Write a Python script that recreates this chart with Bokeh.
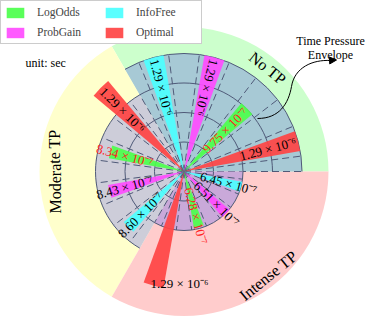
import math
from bokeh.plotting import figure
from bokeh.models import Range1d, Legend, LegendItem, ColumnDataSource, Arrow, NormalHead
from bokeh.core.properties import value
from bokeh.embed import file_html
from bokeh.resources import INLINE

# ---------------- data ----------------
sectors = ["No TP", "Moderate TP", "Intense TP"]
series = ["LogOdds", "ProbGain", "InfoFree", "Optimal"]
log_odds = [9.75e-7, 8.34e-7, 6.28e-7]
prob_gain = [1.29e-6, 8.43e-7, 6.51e-7]
info_free = [1.29e-6, 8.60e-7, 6.45e-7]
optimal = [1.29e-6, 1.29e-6, 1.29e-6]
envelope_rings = [4, 3, 2]          # number of grid rings covered by each envelope
ring_step = 0.3225e-6               # seconds per ring
values = {"LogOdds": log_odds, "ProbGain": prob_gain, "InfoFree": info_free, "Optimal": optimal}

# ---------------- styles / layout ----------------
colors = {"LogOdds": "#4cff4c", "ProbGain": "#ff4cff", "InfoFree": "#4cffff", "Optimal": "#ff4444"}
slot = {"Optimal": 0, "LogOdds": 1, "ProbGain": 2, "InfoFree": 3}
outer_colors = ["#ccffcc", "#ffffcc", "#ffcccc"]
inner_colors = ["#a7c9d5", "#cdcdd9", "#c9a9d9"]
grid_color = "#4f5a78"
SERIF = value("Liberation Serif")
LABEL_SIZE = "13px"

W, H = 366, 317
S = 118 / 1.29            # px per microsecond
cx, cy = 183.5, 171.0     # page position of the pole
R_OUT = 144.5 / S
BAR_W = math.radians(10)

def page(px, py):
    return (px - cx) / S, (cy - py) / S

p = figure(width=W, height=H, output_backend="svg", toolbar_location=None,
           x_range=Range1d((0 - cx) / S, (W - cx) / S),
           y_range=Range1d((cy - H) / S, (cy - 0) / S),
           x_axis_location=None, y_axis_location=None, min_border=0)
p.grid.visible = False
p.outline_line_color = None

us = lambda v: v * 1e6
# outer sector backgrounds
for i, s in enumerate(sectors):
    a0, a1 = math.radians(120 * i), math.radians(120 * (i + 1))
    p.wedge(x=0, y=0, radius=R_OUT, start_angle=a0, end_angle=a1,
            fill_color=outer_colors[i], line_color=None)

# envelopes + polar grid
for i, s in enumerate(sectors):
    a0, a1 = math.radians(120 * i), math.radians(120 * (i + 1))
    env = us(envelope_rings[i] * ring_step)
    p.wedge(x=0, y=0, radius=env, start_angle=a0, end_angle=a1,
            fill_color=inner_colors[i], line_color=None)
    for k in range(1, envelope_rings[i] + 1):
        p.arc(x=0, y=0, radius=us(k * ring_step), start_angle=a0, end_angle=a1,
              line_color=grid_color, line_width=1)
    angs = [math.radians(120 * i + 7.5 + 15 * m) for m in range(8)] + [a0]
    p.segment(x0=[0] * len(angs), y0=[0] * len(angs),
              x1=[env * math.cos(a) for a in angs], y1=[env * math.sin(a) for a in angs],
              line_color=grid_color, line_width=1, line_dash="7 4")

# bars
renderers = {}
for s in series:
    angs = [math.radians(120 * i + 15 + 30 * slot[s]) for i in range(len(sectors))]
    src = ColumnDataSource(dict(r=[us(v) for v in values[s]],
                                a0=[a - BAR_W / 2 for a in angs], a1=[a + BAR_W / 2 for a in angs]))
    renderers[s] = p.wedge(x=0, y=0, radius="r", start_angle="a0", end_angle="a1", source=src,
                           fill_color=colors[s], fill_alpha=0.92, line_color=None)

# bar labels
sup = str.maketrans("-0123456789", "⁻⁰¹²³⁴⁵⁶⁷⁸⁹")
def fmt(v):
    e = math.floor(math.log10(v))
    return f"{v / 10 ** e:.2f} × 10" + str(e).translate(sup)

for i in range(len(sectors)):
    env = us(envelope_rings[i] * ring_step)
    for s in series:
        v = values[s][i]
        r = us(v)
        a_deg = 120 * i + 15 + 30 * slot[s]
        a = math.radians(a_deg)
        col = "#ff2020" if s == "LogOdds" else "black"
        if i == 2 and s == "Optimal":
            p.text(x=[r * math.cos(a) - 3 / S], y=[r * math.sin(a) + 2 / S], text=[fmt(v)],
                   text_font=SERIF, text_font_size=LABEL_SIZE, text_color=col,
                   text_align="left", text_baseline="alphabetic")
            continue
        if i == 2:
            rl, ang, al = 17 / S, a, "left"
        else:
            rl = env + 2 / S if (i == 1 and s != "Optimal") else r - 2 / S
            if 60 < a_deg < 240:
                ang, al = a - math.pi, "left"
            else:
                ang, al = a, "right"
        p.text(x=[rl * math.cos(a)], y=[rl * math.sin(a)], text=[fmt(v)], angle=[ang],
               text_font=SERIF, text_font_size=LABEL_SIZE, text_color=col,
               text_align=al, text_baseline="middle")

# sector titles
title_pos = [(51, 133, -39), (180, 129, 90), (309, 134, 39)]
for (ad, rp, rot), s in zip(title_pos, sectors):
    a = math.radians(ad)
    p.text(x=[rp / S * math.cos(a)], y=[rp / S * math.sin(a)], text=[s], angle=[math.radians(rot)],
           text_font=SERIF, text_font_size="16px", text_color="black",
           text_align="center", text_baseline="middle")

# unit note
ux, uy = page(25, 62)
p.text(x=[ux], y=[uy], text=["unit: sec"], text_font=SERIF, text_font_size="12px",
       text_align="left", text_baseline="alphabetic")

# envelope annotation
tx, ty1 = page(330, 40)
_, ty2 = page(330, 54)
p.text(x=[tx, tx], y=[ty1, ty2], text=["Time Pressure", "Envelope"], text_font=SERIF,
       text_font_size="12px", text_align="center", text_baseline="alphabetic")
b1 = [page(257, 118), page(291, 86), page(279, 118), page(288, 103)]
b2 = [page(291, 86), page(330, 60), page(294, 67), page(312, 59)]
for b in (b1, b2):
    p.bezier(x0=[b[0][0]], y0=[b[0][1]], x1=[b[1][0]], y1=[b[1][1]],
             cx0=[b[2][0]], cy0=[b[2][1]], cx1=[b[3][0]], cy1=[b[3][1]],
             line_color="black", line_width=1)
s0, s1 = page(328, 60), page(336, 59.5)
p.add_layout(Arrow(end=NormalHead(size=7, fill_color="black", line_color="black"),
                   x_start=s0[0], y_start=s0[1], x_end=s1[0], y_end=s1[1],
                   line_color="black", line_width=1))

# legend (column-major fill: first column LogOdds/ProbGain, second InfoFree/Optimal)
legend = Legend(items=[LegendItem(label=s, renderers=[renderers[s]]) for s in
                       ["LogOdds", "ProbGain", "InfoFree", "Optimal"]],
                location="top_left", ncols=2, margin=0, padding=3, spacing=4,
                glyph_width=22, glyph_height=13, label_standoff=11, label_width=62, label_height=16,
                label_text_font="Liberation Serif", label_text_font_size="11.5px",
                border_line_color="#999999", background_fill_alpha=1)
p.add_layout(legend, "center")

open("out.html", "w").write(file_html(p, INLINE))
